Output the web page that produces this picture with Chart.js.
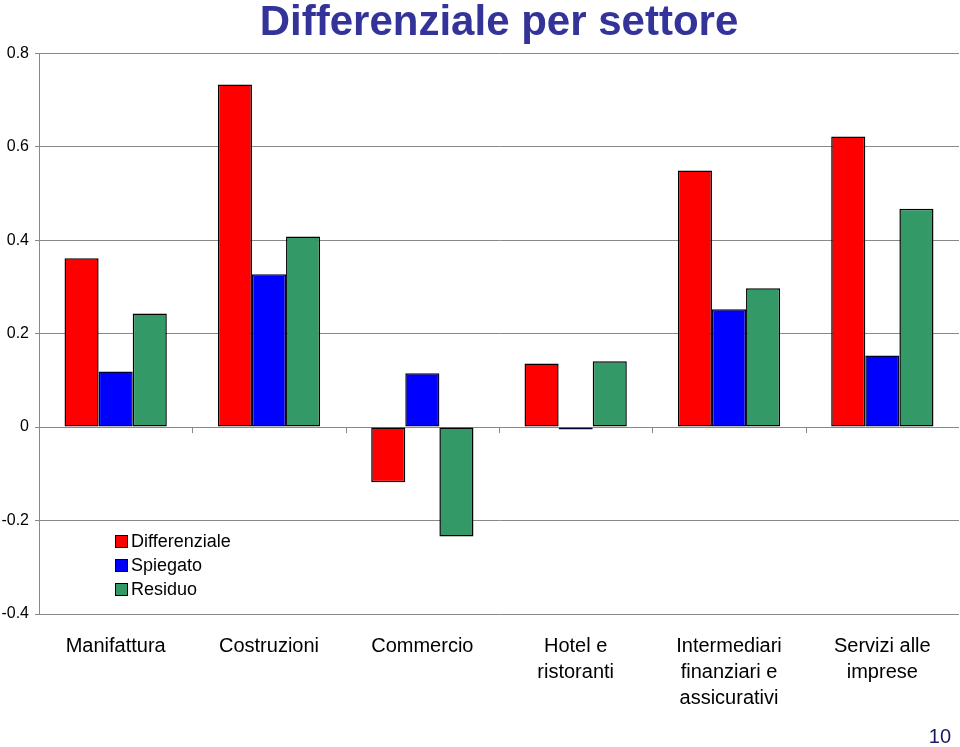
<!DOCTYPE html>
<html>
<head>
<meta charset="utf-8">
<script src="https://cdn.jsdelivr.net/npm/chart.js@4"></script>
<style>
  html, body { margin: 0; padding: 0; background: #fff; }
  #wrap { width: 960px; height: 747px; position: relative; }
</style>
</head>
<body>
<div id="wrap"><canvas id="chart" width="960" height="747"></canvas></div>
<script>
const categories = [
    'Manifattura',
    'Costruzioni',
    'Commercio',
    ['Hotel e', 'ristoranti'],
    ['Intermediari', 'finanziari e', 'assicurativi'],
    ['Servizi alle', 'imprese']
];
const seriesNames = ['Differenziale', 'Spiegato', 'Residuo'];
const differenziale = [0.361, 0.733, -0.118, 0.136, 0.549, 0.622];
const spiegato = [0.119, 0.327, 0.115, -0.005, 0.252, 0.153];
const residuo = [0.243, 0.408, -0.234, 0.141, 0.297, 0.467];
const yTicks = [-0.4, -0.2, 0, 0.2, 0.4, 0.6, 0.8];

const colors = ['#ff0000', '#0000ff', '#339966'];
const font = "'Liberation Sans', Arial, sans-serif";

// legend drawn inside the plot, bottom left
const innerLegend = {
    id: 'innerLegend',
    afterDraw(chart) {
        const ctx = chart.ctx;
        ctx.save();
        ctx.font = '18px ' + font;
        ctx.textBaseline = 'middle';
        chart.data.datasets.forEach((ds, i) => {
            let y = 541 + i * 24;
            ctx.fillStyle = ds.backgroundColor;
            ctx.fillRect(115, y - 6, 12, 12);
            ctx.strokeStyle = '#000';
            ctx.lineWidth = 1;
            ctx.strokeRect(115.5, y - 5.5, 12, 12);
            ctx.fillStyle = '#000';
            ctx.fillText(ds.label, 131, y + 1);
        });
        // page number
        ctx.font = '20px ' + font;
        ctx.fillStyle = '#1a1a66';
        ctx.textAlign = 'right';
        ctx.fillText('10', 951, 737);
        ctx.restore();
    }
};

// small category tick marks under the zero line
const zeroTicks = {
    id: 'zeroTicks',
    afterDatasetsDraw(chart) {
        const x = chart.scales.x, y = chart.scales.y;
        const ctx = chart.ctx;
        const y0 = y.getPixelForValue(0);
        ctx.save();
        ctx.strokeStyle = '#888';
        ctx.lineWidth = 1;
        for (let i = 1; i < categories.length; i++) {
            let px = Math.round((x.getPixelForValue(i - 1) + x.getPixelForValue(i)) / 2) + 0.5;
            ctx.beginPath();
            ctx.moveTo(px, y0);
            ctx.lineTo(px, y0 + 6);
            ctx.stroke();
        }
        ctx.restore();
    }
};

const ctx = document.getElementById('chart').getContext('2d');
new Chart(ctx, {
    type: 'bar',
    data: {
        labels: categories,
        datasets: [differenziale, spiegato, residuo].map((d, i) => ({
            label: seriesNames[i],
            data: d,
            backgroundColor: colors[i],
            borderColor: i === 1 ? '#000033' : '#000',
            borderWidth: 1.5,
            borderSkipped: false,
            barPercentage: 1,
            categoryPercentage: 0.667
        }))
    },
    options: {
        responsive: false,
        animation: false,
        layout: { padding: { left: 0, right: 1, top: 0, bottom: 0 } },
        plugins: {
            legend: { display: false },
            tooltip: { enabled: false },
            title: {
                display: true,
                text: 'Differenziale per settore',
                color: '#333399',
                fullSize: false,
                font: { family: font, size: 42, weight: 'bold', lineHeight: 1.1 },
                padding: { top: 0, bottom: 7 }
            }
        },
        scales: {
            x: {
                grid: { display: false },
                border: { display: false },
                ticks: {
                    color: '#000',
                    font: { family: font, size: 20, lineHeight: 1.3 },
                    padding: 11,
                    maxRotation: 0,
                    autoSkip: false
                },
                afterFit(scale) { scale.height = 133; }
            },
            y: {
                min: -0.4,
                max: 0.8,
                afterBuildTicks(scale) { scale.ticks = yTicks.map(v => ({ value: v })); },
                grid: { color: '#888', lineWidth: 1, tickLength: 4 },
                border: { color: '#888' },
                ticks: {
                    color: '#000',
                    font: { family: font, size: 16 },
                    padding: 6,
                    callback: v => String(Math.round(v * 10) / 10)
                },
                afterFit(scale) { scale.width = 39; }
            }
        }
    },
    plugins: [zeroTicks, innerLegend]
});
</script>
</body>
</html>
